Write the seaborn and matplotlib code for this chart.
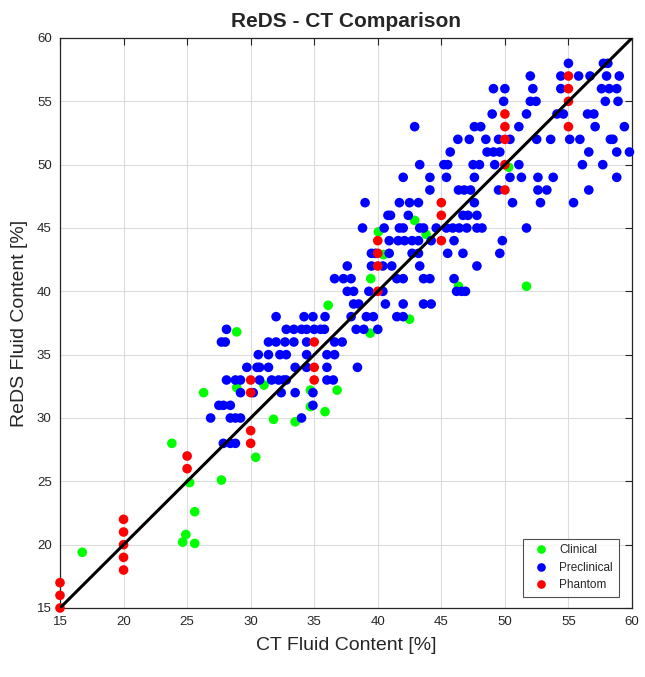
import numpy as np
import pandas as pd
import matplotlib
matplotlib.use("Agg")
import matplotlib.pyplot as plt
import seaborn as sns

# ---------------- data ----------------
clinical_x = [16.75, 23.8, 24.65, 24.9, 25.2, 25.6, 25.6, 27.7, 26.3, 28.9,
              28.9, 31.05, 30.4, 31.8, 33.5, 34.7, 34.7, 35.85, 36.8, 36.1,
              39.4, 39.45, 40.05, 40.45, 42.5, 42.9, 43.8, 46.35, 51.7, 50.3]
clinical_y = [19.4, 28.0, 20.2, 20.8, 24.9, 22.6, 20.1, 25.1, 32.0, 36.8,
              32.4, 32.6, 26.9, 29.9, 29.7, 32.2, 30.9, 30.5, 32.2, 38.9,
              36.7, 41.0, 44.7, 42.9, 37.8, 45.6, 44.5, 40.4, 40.4, 49.8]

preclinical_x = [
    27.85, 28.4, 28.8,
    26.85, 28.4, 28.8, 29.2, 34.0,
    27.5, 27.85, 28.4, 34.9,
    29.2, 30.2, 32.4, 33.5, 34.9,
    28.1, 28.8, 29.2, 30.7, 31.65, 32.2, 32.6, 32.8, 36.0, 36.5,
    29.7, 30.5, 30.7, 31.4, 33.5, 34.4, 36.0, 38.4,
    30.6, 31.4, 32.3, 32.8, 34.4, 36.0, 36.6,
    27.7, 28.0, 31.4, 32.0, 32.7, 33.4, 34.4, 36.6, 37.2,
    28.1, 32.8, 33.4, 34.0, 34.4, 35.0, 35.5, 35.8, 38.3, 38.9, 40.0,
    32.0, 34.2, 34.9, 35.85, 37.9, 39.1, 39.65, 41.5, 42.0,
    38.1, 38.5, 40.6, 42.0, 43.6, 44.2,
    37.6, 38.1, 39.3, 40.4, 46.2, 46.6, 46.9,
    36.6, 37.3, 37.9, 41.5, 42.0, 43.6, 44.1, 46.0,
    37.6, 39.5, 40.4, 41.1, 43.3, 47.8,
    39.5, 39.8, 40.9, 42.7, 43.2, 45.5, 46.7, 49.6,
    40.9, 41.6, 42.1, 42.7, 43.2, 44.2, 46.0, 49.8,
    38.8, 40.5, 41.7, 42.0, 43.3, 43.6, 44.6, 45.4, 45.9, 46.4, 47.0, 47.8, 48.2, 51.7,
    40.8, 41.0, 42.4, 46.7, 47.1, 47.8,
    39.0, 41.7, 42.5, 43.2, 47.6, 50.6, 52.8, 55.4,
    44.1, 46.35, 46.8, 47.3, 49.5, 52.6, 53.3, 56.6,
    42.0, 44.1, 45.4, 47.6, 50.4, 51.3, 52.6, 53.8, 58.8,
    43.3, 45.2, 45.5, 47.5, 48.0, 49.2, 51.1, 56.1, 57.7,
    45.7, 48.6, 49.1, 49.6, 56.6, 58.8, 59.8,
    46.3, 47.2, 48.5, 49.5, 50.4, 52.5, 53.6, 55.1, 55.9, 58.3, 58.5,
    42.9, 47.6, 48.1, 51.1, 57.1, 59.4,
    49.0, 51.7, 54.1, 54.6, 56.5, 57.0,
    49.9, 52.0, 52.45, 57.9, 58.9,
    49.1, 50.0, 52.2, 54.4, 57.6, 58.2, 58.8,
    52.0, 54.4, 55.8, 56.7, 58.0, 59.0,
    55.0, 57.75, 58.1,
]
preclinical_y = [
    28, 28, 28,
    30, 30, 30, 30, 30,
    31, 31, 31, 31,
    32, 32, 32, 32, 32,
    33, 33, 33, 33, 33, 33, 33, 33, 33, 33,
    34, 34, 34, 34, 34, 34, 34, 34,
    35, 35, 35, 35, 35, 35, 35,
    36, 36, 36, 36, 36, 36, 36, 36, 36,
    37, 37, 37, 37, 37, 37, 37, 37, 37, 37, 37,
    38, 38, 38, 38, 38, 38, 38, 38, 38,
    39, 39, 39, 39, 39, 39,
    40, 40, 40, 40, 40, 40, 40,
    41, 41, 41, 41, 41, 41, 41, 41,
    42, 42, 42, 42, 42, 42,
    43, 43, 43, 43, 43, 43, 43, 43,
    44, 44, 44, 44, 44, 44, 44, 44,
    45, 45, 45, 45, 45, 45, 45, 45, 45, 45, 45, 45, 45, 45,
    46, 46, 46, 46, 46, 46,
    47, 47, 47, 47, 47, 47, 47, 47,
    48, 48, 48, 48, 48, 48, 48, 48,
    49, 49, 49, 49, 49, 49, 49, 49, 49,
    50, 50, 50, 50, 50, 50, 50, 50, 50,
    51, 51, 51, 51, 51, 51, 51,
    52, 52, 52, 52, 52, 52, 52, 52, 52, 52, 52,
    53, 53, 53, 53, 53, 53,
    54, 54, 54, 54, 54, 54,
    55, 55, 55, 55, 55,
    56, 56, 56, 56, 56, 56, 56,
    57, 57, 57, 57, 57, 57,
    58, 58, 58,
]

phantom_x = [15, 15, 15, 20, 20, 20, 20, 20, 25, 25, 30, 30, 30, 30,
             35, 35, 35, 40, 40, 40, 40, 45, 45, 45, 50, 50, 50, 50, 50,
             55, 55, 55, 55]
phantom_y = [15, 16, 17, 18, 19, 20, 21, 22, 26, 27, 28, 29, 32, 33,
             33, 34, 36, 40, 42, 43, 44, 44, 46, 47, 48, 50, 52, 53, 54,
             53, 55, 56, 57]

groups = ["Clinical", "Preclinical", "Phantom"]
colors = ["#00ff00", "#0000ff", "#ff0000"]
ticks = [15, 20, 25, 30, 35, 40, 45, 50, 55, 60]

df = pd.concat([
    pd.DataFrame({"CT": clinical_x, "ReDS": clinical_y, "Group": "Clinical"}),
    pd.DataFrame({"CT": preclinical_x, "ReDS": preclinical_y, "Group": "Preclinical"}),
    pd.DataFrame({"CT": phantom_x, "ReDS": phantom_y, "Group": "Phantom"}),
], ignore_index=True)

# ---------------- plot ----------------
sns.set_style("white")
plt.rcParams['font.family'] = ['Liberation Sans', 'DejaVu Sans']

fig = plt.figure(figsize=(6.45, 6.77), dpi=100)
ax = fig.add_axes([60 / 645, 1 - 608 / 677, 572 / 645, 570 / 677])

sns.scatterplot(data=df, x="CT", y="ReDS", hue="Group", hue_order=groups,
                palette=dict(zip(groups, colors)), s=48, linewidth=0,
                alpha=1, ax=ax, zorder=3)
for coll in ax.collections:
    coll.set_clip_on(False)

ax.plot([ticks[0], ticks[-1]], [ticks[0], ticks[-1]], color="black",
        linewidth=2.2, zorder=4)

ax.set_xlim(15, 60)
ax.set_ylim(15, 60)
ax.set_xticks(ticks)
ax.set_yticks(ticks)
ax.grid(True, color="#dcdcdc", linewidth=0.8, zorder=0)
ax.set_axisbelow(True)
ax.tick_params(direction="in", top=True, right=True, length=5, width=0.8,
               labelsize=9.5, colors="#262626", pad=6)
for sp in ax.spines.values():
    sp.set_color("#262626")
    sp.set_linewidth(0.9)

ax.set_xlabel("CT Fluid Content [%]", fontsize=14, color="#262626", labelpad=6)
ax.set_ylabel("ReDS Fluid Content [%]", fontsize=14, color="#262626", labelpad=6)
ax.set_title("ReDS - CT Comparison", fontsize=15, fontweight="bold", pad=8)

leg = ax.legend(loc="lower right", bbox_to_anchor=(619 / 645, 1 - 597 / 677),
                bbox_transform=fig.transFigure, frameon=True, fancybox=False,
                fontsize=8.5, markerscale=0.9, handletextpad=0.6,
                borderpad=0.5, labelspacing=0.45, borderaxespad=0,
                title=None)
leg.get_frame().set_edgecolor("#262626")
leg.get_frame().set_linewidth(0.8)
leg.set_zorder(10)

fig.savefig("out.png", dpi=100)
